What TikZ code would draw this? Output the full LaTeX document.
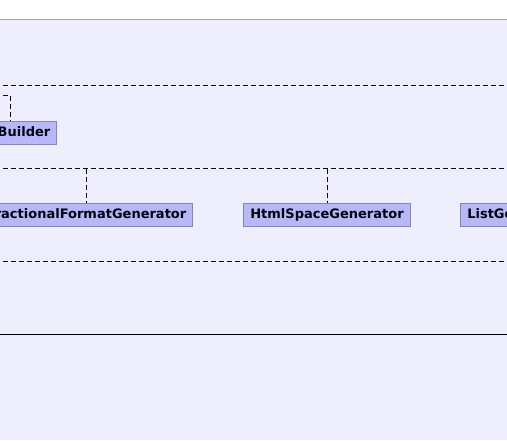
\documentclass[tikz,border=0pt]{standalone}
\usepackage{fontspec}
\setmainfont{DejaVu Sans}
\definecolor{bglav}{HTML}{EEEEFC}
\definecolor{boxfill}{HTML}{B8B8F8}
\definecolor{boxline}{HTML}{8484BC}
\definecolor{topline}{HTML}{A4A4B4}
\definecolor{txt}{HTML}{000010}
\tikzset{
  cls/.style={draw=boxline, fill=boxfill, line width=1pt, text=txt,
    font=\fontsize{13}{15}\selectfont\bfseries, inner xsep=6.5pt, inner ysep=0pt,
    minimum height=23pt, text height=9.6pt, text depth=2.6pt},
  dep/.style={draw=black, line width=0.9pt, dash pattern=on 5pt off 3pt},
  sep/.style={draw=black, line width=1pt}
}
\begin{document}
\begin{tikzpicture}[x=1pt,y=-1pt]
\useasboundingbox (0,0) rectangle (507,440);
\clip (0,0) rectangle (507,440);
\fill[white] (0,0) rectangle (507,440);
\fill[bglav] (0,19.5) rectangle (507,440);
\draw[topline, line width=1.2pt] (-5,19.5) -- (512,19.5);
% package separators
\draw[dep] (-5,85.5) -- (512,85.5);
\draw[dep] (-5,168.5) -- (512,168.5);
\draw[dep] (-5,261.5) -- (512,261.5);
\draw[sep] (-5,334.5) -- (512,334.5);
% classes
\node[cls, anchor=north east] (builder) at (57.3,120.7) {Builder};
\node[cls, anchor=north east] (frac) at (193.3,203.3) {ractionalFormatGenerator};
\node[cls, anchor=north west] (html) at (243.3,203.3) {HtmlSpaceGenerator};
\node[cls, anchor=north west] (list) at (460.3,203.3) {ListGe\rule{0pt}{0pt}\hspace{30pt}};
% connectors
\coordinate (bl) at (-5,95.5);
\draw[dep] (bl) -| ([xshift=10.3pt]builder.north west -| 0,0);
\coordinate (fjoin) at (86.5,168.5);
\coordinate (hjoin) at (327.5,168.5);
\draw[dep] (fjoin) -- (fjoin |- frac.north);
\draw[dep] (hjoin) -- (hjoin |- html.north);
\end{tikzpicture}
\end{document}
